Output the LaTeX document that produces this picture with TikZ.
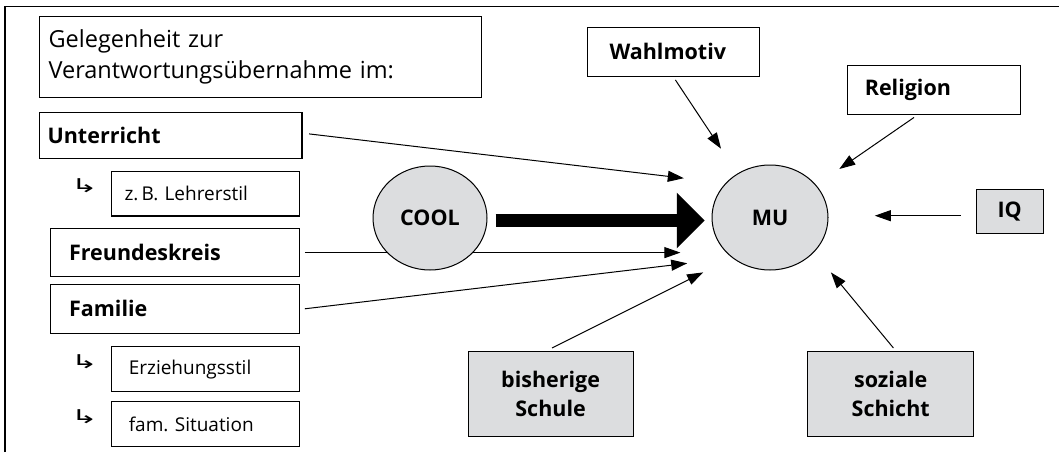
\documentclass[tikz,border=0pt]{standalone}
\usepackage{fontspec}
\setmainfont{Open Sans}
\newfontfamily\symfont{DejaVu Sans}
\usetikzlibrary{arrows.meta,calc,shapes.geometric}
\definecolor{boxgray}{HTML}{DCDDDF}
\frenchspacing
\begin{document}
\begin{tikzpicture}[x=1pt,y=-1pt,
  box/.style={draw, line width=1.1pt, inner ysep=0pt, align=left, anchor=center},
  gbox/.style={draw, line width=1.1pt, fill=boxgray, inner sep=0pt, align=center, anchor=center},
  oval/.style={draw, line width=1pt, fill=boxgray, ellipse, inner sep=0pt},
  rmtxt/.style={font=\fontsize{23.5}{31}\selectfont},
  smtxt/.style={font=\fontsize{19}{23}\selectfont},
  bftxt/.style={font=\fontsize{21.5}{29}\selectfont\bfseries},
  hook/.style={font=\symfont\fontsize{19}{20}\selectfont, inner sep=0pt},
  arr/.style={line width=1pt, -{Triangle[length=16pt,width=11pt]}},
  bigarr/.style={line width=13pt, -{Triangle[length=28pt,width=54pt]}}
]
\useasboundingbox (0,0) rectangle (1059,452);
% frame
\draw[line width=1.6pt] (5,452) -- (5,6.5) -- (1059,6.5);

% left boxes
\node[box, rmtxt, text width=424pt, inner xsep=9pt, minimum height=81pt] (title) at (260.6,56.8)
  {Gelegenheit zur\\Verantwortungsübernahme im:};
\node[box, bftxt, text width=246.4pt, inner xsep=8pt, minimum height=45.6pt] (unt) at (170.8,135.4) {Unterricht};
\node[box, smtxt, text width=161.6pt, inner xsep=13pt, minimum height=44.6pt] (lehr) at (205.4,193.7) {z.\,B. Lehrerstil};
\node[box, bftxt, text width=211.9pt, inner xsep=18.3pt, minimum height=48.4pt] (freund) at (175,252.6) {Freundeskreis};
\node[box, bftxt, text width=211.9pt, inner xsep=18.3pt, minimum height=49.1pt] (fam) at (175,308.8) {Familie};
\node[box, smtxt, text width=153.2pt, inner xsep=17.2pt, minimum height=45pt] (erz) at (205.4,369.3) {Erziehungsstil};
\node[box, smtxt, text width=153.2pt, inner xsep=17.2pt, minimum height=44.6pt] (sit) at (205.4,424.2) {fam. Situation};

\node[hook] (h1) at (84.5,186) {\scalebox{1.7}[1]{↳}};
\node[hook] (h2) at (84.5,361.5) {\scalebox{1.7}[1]{↳}};
\node[hook] (h3) at (84.5,416.5) {\scalebox{1.7}[1]{↳}};

% right boxes
\node[box, bftxt, text width=128.4pt, inner xsep=22pt, minimum height=48.4pt] (wahl) at (673.7,51.9) {Wahlmotiv};
\node[box, bftxt, text width=138.4pt, inner xsep=17pt, minimum height=49pt] (rel) at (934,90.4) {Religion};
\node[gbox, bftxt, minimum width=67pt, minimum height=44.2pt] (iq) at (1009.7,211.4) {IQ};
\node[gbox, bftxt, minimum width=164.9pt, minimum height=84.6pt] (bis) at (550.6,394.1) {bisherige\\Schule};
\node[gbox, bftxt, minimum width=165.6pt, minimum height=84.6pt] (soz) at (890.7,394.1) {soziale\\Schicht};

% arrow end points
\coordinate (eunt) at (683.8,178.2);
\coordinate (efreund) at (680.4,252.6);
\coordinate (efam) at (687.2,263.3);
\coordinate (ewahl) at (721,148.7);
\coordinate (erel) at (839.3,169);
\coordinate (eiq) at (874.8,215.7);
\coordinate (ebis) at (703.1,272.4);
\coordinate (esoz) at (830.9,272.4);

% line behind COOL
\draw[arr] ([xshift=5pt]freund.east) -- (efreund);

% ellipses
\node[oval, bftxt, minimum width=114pt, minimum height=104pt] (cool) at (430,218) {COOL};
\node[oval, bftxt, minimum width=116pt, minimum height=105pt] (mu) at (770,217.5) {MU};

% arrows
\draw[bigarr] ([xshift=8pt,yshift=-2.5pt]cool.east) -- ([xshift=-6.7pt,yshift=-3pt]mu.west);
\draw[arr] ([xshift=6.5pt,yshift=1.5pt]unt.east) -- (eunt);
\draw[arr] ([xshift=5pt]fam.east) -- (efam);
\draw[arr] ([xshift=1.7pt,yshift=-3.3pt]wahl.south) -- (ewahl);
\draw[arr] ([xshift=-20pt,yshift=-2pt]rel.south) -- (erel);
\draw[arr] ([xshift=-15pt,yshift=-4.3pt]iq.west) -- (eiq);
\draw[arr] ([xshift=1.4pt,yshift=3.3pt]bis.north) -- (ebis);
\draw[arr] ([xshift=2.7pt,yshift=3.3pt]soz.north) -- (esoz);
\end{tikzpicture}
\end{document}
